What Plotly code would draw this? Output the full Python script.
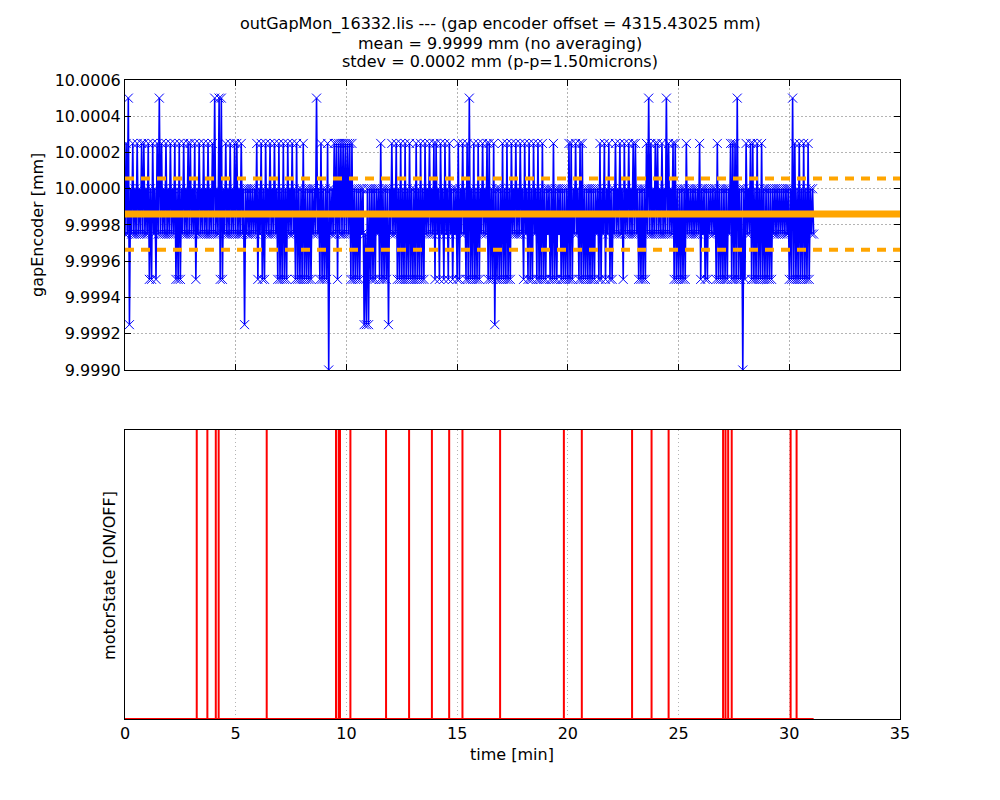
import numpy as np
import plotly.graph_objects as go
from plotly.subplots import make_subplots

# gap encoder readings, quantised levels [mm]
gap_levels = [9.9990, 9.99925, 9.9995, 9.99975, 10.0000, 10.00025, 10.0005]

# one string per minute of samples (3 s period), each char = index into gap_levels
gap_codes = [
    "35361435343534353534", "35242534253635343534", "35343524252435343535",
    "34352435343534353435", "36343626243534353435", "35343534143434343435",
    "24352425343534353425", "24252425343534252424", "25242424243436342524",
    "24250434353525353535", "35352524242424341314", "14242424342524242414",
    "35343524252425242524", "24252425242534353435", "25342534253425342434",
    "25243534252624252425", "24353435252425142424", "25242524253435343534",
    "25342524253425242524", "24342425242434242424", "25252435342525242424",
    "24242434252435243524", "24353435342534353435", "35342424242536353435",
    "35343534363534352524", "24242425343434343435", "24342424343434252424",
    "24242435252526242404", "25343525242524252424", "24242434343434343434",
    "24262524252425242524", "343",
]
sample_min = 0.05

gap_mean = 9.99986
gap_std = 0.000196

# motor switched on (single samples) [min]
motor_on = [3.24, 3.72, 4.10, 4.23, 6.40, 9.53, 9.65, 9.71, 10.18, 11.79,
            12.83, 13.86, 14.64, 15.24, 16.94, 19.82, 20.63, 22.90, 23.78,
            24.55, 27.01, 27.12, 27.24, 27.40, 30.06, 30.33]
motor_end = 31.1

codes = "".join(gap_codes)
gap_val = [gap_levels[int(c)] for c in codes]
gap_t = np.arange(len(gap_val)) * sample_min

mt = [0.0]
ms = [0]
for t in motor_on:
    mt += [t, t, t]
    ms += [0, 1, 0]
mt.append(motor_end)
ms.append(0)

fig = make_subplots(rows=2, cols=1, shared_xaxes=False, vertical_spacing=0.0)

fig.add_trace(go.Scatter(
    x=gap_t, y=gap_val, mode="lines+markers",
    line=dict(color="#0000ff", width=1.6, simplify=False),
    marker=dict(symbol="x-thin", size=9, line=dict(color="#0000ff", width=1)),
    showlegend=False), row=1, col=1)

fig.add_trace(go.Scatter(
    x=mt, y=ms, mode="lines", line=dict(color="#ff0000", width=2, simplify=False),
    showlegend=False), row=2, col=1)

fig.add_hline(y=gap_mean, line=dict(color="orange", width=7), row=1, col=1)
fig.add_hline(y=gap_mean + gap_std, line=dict(color="orange", width=4, dash="9px,7px"), row=1, col=1)
fig.add_hline(y=gap_mean - gap_std, line=dict(color="orange", width=4, dash="9px,7px"), row=1, col=1)

font = dict(family="DejaVu Sans", size=16, color="black")
ax = dict(showline=True, linecolor="black", linewidth=1, mirror="ticks",
          ticks="inside", ticklen=6, tickcolor="black", zeroline=False,
          showgrid=True, gridcolor="#b4b4b4", gridwidth=1, griddash="1.5px,2.5px",
          tickfont=font)

# page body has an 8px margin, so the figure is 8px smaller and shifted
fig.update_layout(
    width=992, height=792,
    margin=dict(l=117, r=100, t=72, b=81),
    paper_bgcolor="white", plot_bgcolor="white",
    font=font,
    xaxis=dict(ax, range=[0, 35], dtick=5, showticklabels=False,
               domain=[0, 1]),
    yaxis=dict(ax, range=[9.9990, 10.0006], dtick=0.0002, tick0=9.9990,
               tickformat=".4f", domain=[0.5462, 1]),
    xaxis2=dict(ax, range=[0, 35], dtick=5, ticks="", mirror=True,
                domain=[0, 1]),
    yaxis2=dict(ax, range=[0, 1], showticklabels=False, ticks="", showgrid=False,
                mirror=True, domain=[0, 0.4523]),
)

title_lines = [
    "outGapMon_16332.lis --- (gap encoder offset = 4315.43025 mm)",
    "mean = 9.9999 mm (no averaging)",
    "stdev = 0.0002 mm (p-p=1.50microns)",
]
for txt, yp in zip(title_lines, [1.0876, 1.0579, 1.0282]):
    fig.add_annotation(text=txt, xref="paper", yref="paper", x=0.4839, y=yp,
                       showarrow=False, xanchor="center", yanchor="middle", font=font)

fig.add_annotation(text="gapEncoder [mm]", xref="paper", yref="paper", x=-0.1123, y=0.7731,
                   textangle=-90, showarrow=False, xanchor="center", yanchor="middle", font=font)
fig.add_annotation(text="motorState [ON/OFF]", xref="paper", yref="paper", x=-0.0194, y=0.2254,
                   textangle=-90, showarrow=False, xanchor="center", yanchor="middle", font=font)
fig.add_annotation(text="time [min]", xref="paper", yref="paper", x=0.4994, y=-0.0563,
                   showarrow=False, xanchor="center", yanchor="middle", font=font)

fig.write_html("out.html")
